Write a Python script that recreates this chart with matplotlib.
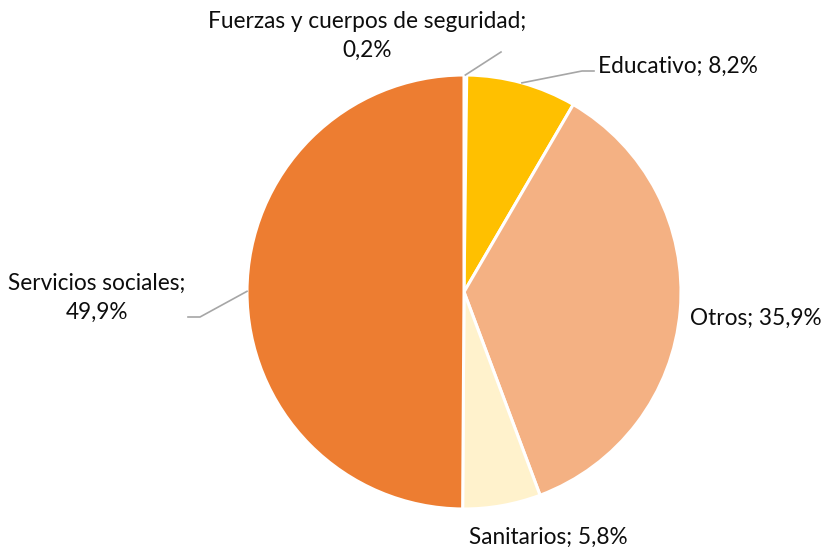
import numpy as np
import matplotlib
matplotlib.use("Agg")
import matplotlib.pyplot as plt

categories = ["Fuerzas y cuerpos de seguridad", "Educativo", "Otros", "Sanitarios", "Servicios sociales"]
values = [0.2, 8.2, 35.9, 5.8, 49.9]
colors = ["#F8CBAD", "#FFC000", "#F4B183", "#FFF2CC", "#ED7D31"]

W, H = 830, 547
fig = plt.figure(figsize=(W / 100, H / 100), dpi=100)
ax = fig.add_axes([0, 0, 1, 1])

cx, cy, R = 464, H - 292, 217
wedges, _ = ax.pie(values, colors=colors, startangle=90, counterclock=False,
                   center=(cx, cy), radius=R, frame=True,
                   wedgeprops=dict(edgecolor="white", linewidth=2.2))
ax.set_xlim(0, W)
ax.set_ylim(0, H)
ax.set_aspect("equal")
ax.axis("off")

def fmt(v):
    return f"{v:.1f}%".replace(".", ",")

def edge_point(w):
    ang = np.deg2rad((w.theta1 + w.theta2) / 2)
    return cx + R * np.cos(ang), cy + R * np.sin(ang)

font = dict(family="Lato", fontsize=16.3, color="#0d0d0d")
lc = "#A6A6A6"

# Fuerzas
x0, y0 = edge_point(wedges[0])
ax.plot([x0, 501], [y0, H - 52], color=lc, lw=1.2)
ax.text(367, H - 36, f"{categories[0]};\n{fmt(values[0])}", ha="center", va="center",
        linespacing=1.45, **font)
# Educativo
x0, y0 = edge_point(wedges[1])
ax.plot([x0, 582, 594], [y0, H - 71, H - 71], color=lc, lw=1.2)
ax.text(598, H - 66, f"{categories[1]}; {fmt(values[1])}", ha="left", va="center", **font)
# Otros
ax.text(690, H - 318, f"{categories[2]}; {fmt(values[2])}", ha="left", va="center", **font)
# Sanitarios
ax.text(548, H - 537, f"{categories[3]}; {fmt(values[3])}", ha="center", va="center", **font)
# Servicios sociales
x0, y0 = edge_point(wedges[4])
ax.plot([x0, 200, 188], [y0, H - 317, H - 317], color=lc, lw=1.2)
ax.text(97, H - 298, f"{categories[4]};\n{fmt(values[4])}", ha="center", va="center",
        linespacing=1.45, **font)

fig.savefig("out.png", dpi=100)
